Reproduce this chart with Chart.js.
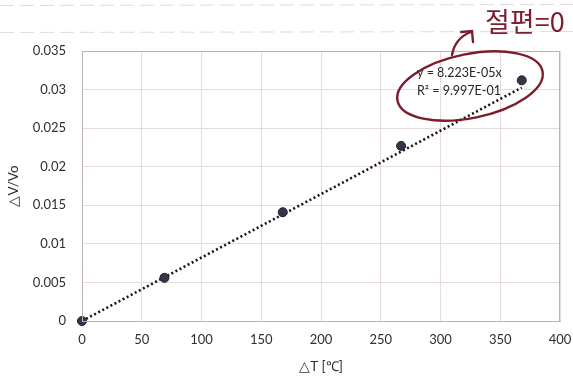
<!DOCTYPE html>
<html>
<head>
<meta charset="utf-8">
<script src="https://cdn.jsdelivr.net/npm/chart.js@4/dist/chart.umd.min.js"></script>
<style>
  html, body { margin: 0; padding: 0; background: #fff; }
  #wrap { width: 573px; height: 376px; }
</style>
</head>
<body>
<div id="wrap"><canvas id="c" width="573" height="376"></canvas></div>
<script>
// Measured temperature rise and relative voltage change
const deltaT = [0, 69, 168, 267, 368];
const deltaVRatio = [0, 0.0056, 0.0141, 0.0227, 0.0312];

// Linear fit through the origin
const slope = 8.223e-5;
const rSquaredText = '9.997E-01';
const slopeText = '8.223E-05';
const fitRange = [0, 368];

// Axis ticks
const xTicks = [0, 50, 100, 150, 200, 250, 300, 350, 400];
const yTicks = [0, 0.005, 0.01, 0.015, 0.02, 0.025, 0.03, 0.035];

const points = deltaT.map((x, i) => ({ x: x, y: deltaVRatio[i] }));
const fitLine = fitRange.map(x => ({ x: x, y: slope * x }));

const FONT = 'Lato, "Open Sans", "Liberation Sans", sans-serif';
const INK = '#7c1c2c';

// Faint ruled lines of the notebook page, the handwritten note and the fit label
const notesPlugin = {
  id: 'notes',
  beforeDraw(chart) {
    const ctx = chart.ctx;
    ctx.save();
    ctx.fillStyle = '#fff';
    ctx.fillRect(0, 0, chart.width, chart.height);
    ctx.strokeStyle = 'rgba(190,172,178,0.45)';
    ctx.lineWidth = 1;
    ctx.setLineDash([14, 6]);
    [5.5, 32.5].forEach(y => {
      ctx.beginPath();
      ctx.moveTo(0, y);
      ctx.lineTo(chart.width, y - 1);
      ctx.stroke();
    });
    ctx.restore();
  },
  afterDatasetsDraw(chart) {
    const ctx = chart.ctx;
    const a = chart.chartArea;
    ctx.save();
    // plot frame (top and right)
    ctx.strokeStyle = '#bdb3b6';
    ctx.lineWidth = 1;
    ctx.strokeRect(a.left + 0.5, a.top + 0.5, a.right - a.left - 1, a.bottom - a.top);

    // fit equation
    ctx.fillStyle = '#262626';
    ctx.font = '12.5px ' + FONT;
    ctx.textBaseline = 'middle';
    ctx.textAlign = 'left';
    ctx.fillText('y = ' + slopeText + 'x', 417, 73);
    ctx.fillText('R\u00B2 = ' + rSquaredText, 417, 91);

    // hand-drawn loop around the equation
    ctx.strokeStyle = INK;
    ctx.lineWidth = 2.4;
    ctx.lineCap = 'round';
    ctx.beginPath();
    ctx.ellipse(470, 86, 74, 32, -0.2, 0, Math.PI * 2);
    ctx.stroke();

    // arrow pointing to the note
    ctx.beginPath();
    ctx.moveTo(452, 55);
    ctx.quadraticCurveTo(455, 38, 471, 32);
    ctx.stroke();
    ctx.beginPath();
    ctx.moveTo(461, 32);
    ctx.lineTo(472, 31);
    ctx.lineTo(473, 42);
    ctx.stroke();

    // handwritten note
    ctx.fillStyle = INK;
    ctx.font = '27px "Noto Sans CJK KR", sans-serif';
    ctx.textBaseline = 'middle';
    ctx.fillText('\uC808\uD3B8=0', 485, 22);
    ctx.restore();
  }
};

new Chart(document.getElementById('c'), {
  type: 'scatter',
  data: {
    datasets: [
      {
        label: '\u0394V/Vo',
        data: points,
        backgroundColor: '#34374b',
        borderColor: '#1d1e2b',
        borderWidth: 1,
        pointRadius: 4.5,
        clip: false,
        order: 0
      },
      {
        type: 'line',
        label: 'fit',
        data: fitLine,
        borderColor: '#151515',
        borderWidth: 2.6,
        borderDash: [2, 2.6],
        pointRadius: 0,
        fill: false,
        order: 1
      }
    ]
  },
  options: {
    responsive: false,
    animation: false,
    devicePixelRatio: 1,
    layout: { padding: { top: 51, right: 13, left: 0, bottom: 0 } },
    plugins: { legend: { display: false }, tooltip: { enabled: false } },
    scales: {
      x: {
        type: 'linear',
        min: 0,
        max: 400,
        afterFit(s) { s.height = 55; s.paddingLeft = 0; s.paddingRight = 0; },
        afterBuildTicks(s) { s.ticks = xTicks.map(v => ({ value: v })); },
        grid: { color: '#e6dcdf', drawTicks: false },
        border: { color: '#bdb3b6' },
        ticks: { color: '#2e2e2e', font: { family: FONT, size: 13 }, padding: 11 },
        title: {
          display: true,
          text: '\u25B3T [\u2103]',
          color: '#2e2e2e',
          font: { family: FONT, size: 13.5 },
          padding: { top: 0, bottom: 1 }
        }
      },
      y: {
        min: 0,
        max: 0.035,
        afterFit(s) { s.width = 82; s.paddingTop = 0; s.paddingBottom = 0; },
        afterBuildTicks(s) { s.ticks = yTicks.map(v => ({ value: v })); },
        grid: { color: '#e6dcdf', drawTicks: false },
        border: { color: '#bdb3b6' },
        ticks: {
          color: '#2e2e2e',
          font: { family: FONT, size: 13 },
          padding: 16,
          callback: v => String(Number(v.toFixed(3)))
        },
        title: {
          display: true,
          text: '\u25B3V/Vo',
          color: '#2e2e2e',
          font: { family: FONT, size: 13.5 },
          padding: { top: 6, bottom: 0 }
        }
      }
    }
  },
  plugins: [notesPlugin]
});
</script>
</body>
</html>
